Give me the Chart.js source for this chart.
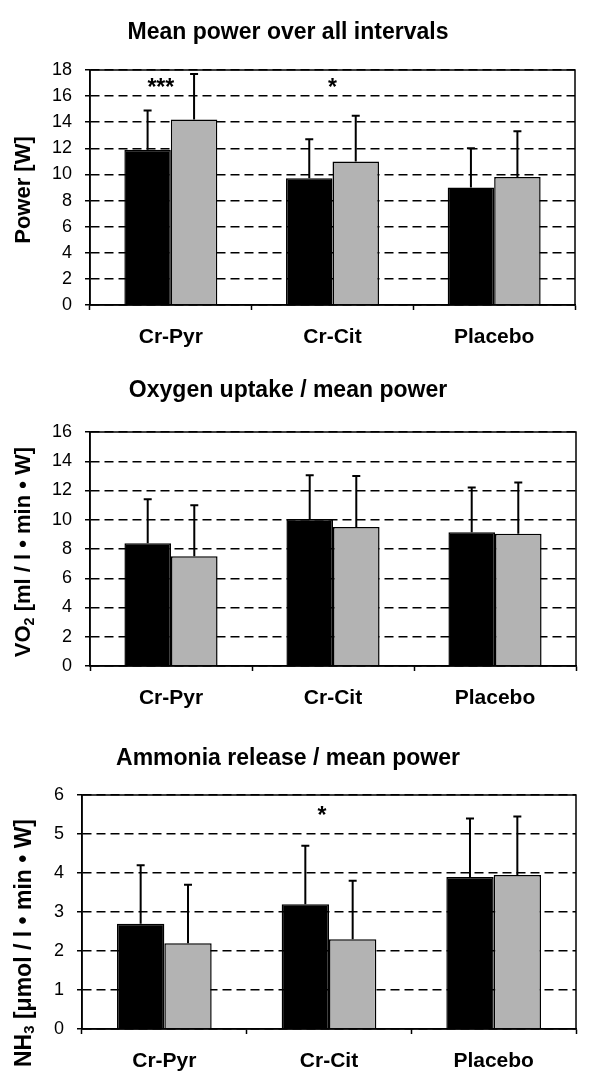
<!DOCTYPE html>
<html>
<head>
<meta charset="utf-8">
<script src="https://cdn.jsdelivr.net/npm/chart.js@4.4.1/dist/chart.umd.min.js"></script>
<style>
  body { margin: 0; background: #fff; width: 600px; height: 1084px; position: relative; overflow: hidden;
         font-family: "Liberation Sans", Arial, sans-serif; color: #000; }
  canvas { position: absolute; left: 0; }
  .title { position: absolute; left: 0; width: 576px; text-align: center; font-weight: bold;
           font-size: 23px; line-height: 23px; white-space: nowrap; }
  .ytitle { position: absolute; font-weight: bold; line-height: 1; white-space: nowrap;
            transform: translate(-50%, -50%) rotate(-90deg); }
  .ytitle sub { font-size: 65%; vertical-align: -0.25em; line-height: 0; }
</style>
</head>
<body>
<canvas id="chart1" width="600" height="350" style="top:0px"></canvas>
<canvas id="chart2" width="600" height="351" style="top:360px"></canvas>
<canvas id="chart3" width="600" height="354" style="top:720px"></canvas>

<div class="title" style="top:20px">Mean power over all intervals</div>
<div class="title" style="top:378px">Oxygen uptake / mean power</div>
<div class="title" style="top:746px">Ammonia release / mean power</div>

<div class="ytitle" style="left:23px; top:190px; font-size:22px">Power [W]</div>
<div class="ytitle" style="left:23px; top:552px; font-size:22px">VO<sub>2</sub> [ml / l • min • W]</div>
<div class="ytitle" style="left:23px; top:943px; font-size:23px">NH<sub>3</sub> [μmol / l • min • W]</div>

<script>
const groups = ['Cr-Pyr', 'Cr-Cit', 'Placebo'];

// mean power [W]
const powerBlack = [11.9, 9.7, 9.0];
const powerBlackSd = [3.0, 3.0, 3.0];
const powerGray = [14.2, 11.0, 9.8];
const powerGraySd = [3.5, 3.5, 3.5];
const powerStars = ['***', '*', ''];

// VO2 / mean power
const vo2Black = [8.4, 10.05, 9.15];
const vo2BlackSd = [3.0, 3.0, 3.05];
const vo2Gray = [7.5, 9.5, 9.05];
const vo2GraySd = [3.5, 3.5, 3.5];
const vo2Stars = ['', '', ''];

// NH3 / mean power
const nh3Black = [2.7, 3.2, 3.9];
const nh3BlackSd = [1.5, 1.5, 1.5];
const nh3Gray = [2.2, 2.3, 3.95];
const nh3GraySd = [1.5, 1.5, 1.5];
const nh3Stars = ['', '*', ''];

const FONT = '"Liberation Sans", Arial, sans-serif';

// upper error bars with a small cap
const errorBars = {
    id: 'errorBars',
    afterDatasetsDraw(chart) {
        const ctx = chart.ctx;
        const y = chart.scales.y;
        ctx.save();
        ctx.strokeStyle = '#000';
        ctx.lineWidth = 2;
        chart.data.datasets.forEach((ds, i) => {
            chart.getDatasetMeta(i).data.forEach((bar, j) => {
                const top = y.getPixelForValue(ds.data[j] + ds.sd[j]);
                ctx.beginPath();
                ctx.moveTo(bar.x, bar.y);
                ctx.lineTo(bar.x, top);
                ctx.moveTo(bar.x - 4, top);
                ctx.lineTo(bar.x + 4, top);
                ctx.stroke();
            });
        });
        ctx.restore();
    }
};

// box around the plot area
const frame = {
    id: 'frame',
    afterDatasetsDraw(chart) {
        const {ctx, chartArea: a} = chart;
        ctx.save();
        ctx.strokeStyle = '#000';
        ctx.lineWidth = 1.5;
        ctx.strokeRect(a.left, a.top, a.right - a.left, a.bottom - a.top);
        ctx.restore();
    }
};

// significance asterisks
const stars = {
    id: 'stars',
    afterDatasetsDraw(chart, args, opts) {
        const {ctx, scales: {x, y}} = chart;
        ctx.save();
        ctx.font = 'bold 23px ' + FONT;
        ctx.textAlign = 'center';
        ctx.textBaseline = 'alphabetic';
        ctx.fillStyle = '#000';
        opts.labels.forEach((t, i) => {
            if (!t) return;
            ctx.fillText(t, x.getPixelForValue(i) + opts.shift[i], y.getPixelForValue(opts.level));
        });
        ctx.restore();
    }
};

function makeChart(id, black, blackSd, gray, graySd, o) {
    const ctx = document.getElementById(id).getContext('2d');
    return new Chart(ctx, {
        type: 'bar',
        data: {
            labels: groups,
            datasets: [
                { data: black, sd: blackSd, backgroundColor: '#000', borderColor: '#000', borderWidth: 1.5 },
                { data: gray, sd: graySd, backgroundColor: '#b3b3b3', borderColor: '#000', borderWidth: 1.5 }
            ]
        },
        options: {
            responsive: false,
            animation: false,
            layout: { padding: { top: o.padTop, right: o.padRight, left: 0, bottom: 0 } },
            datasets: { bar: { categoryPercentage: 0.575, barPercentage: 1 } },
            plugins: {
                legend: { display: false },
                tooltip: { enabled: false },
                stars: { labels: o.stars, level: o.starLevel, shift: o.starShift }
            },
            scales: {
                x: {
                    ticks: { color: '#000', font: { family: FONT, size: 21, weight: 'bold' }, padding: 15 },
                    grid: { offset: true, drawOnChartArea: false, tickLength: 5, tickColor: '#000', tickWidth: 1.5 },
                    border: { color: '#000', width: 1.5 },
                    afterFit: (s) => { s.height = 45; }
                },
                y: {
                    min: 0,
                    max: o.max,
                    ticks: { stepSize: o.step, color: '#000', font: { family: FONT, size: 18 }, padding: 13 },
                    grid: { color: '#000', lineWidth: 1.5, tickLength: 5, tickColor: '#000', tickWidth: 1.5 },
                    border: { color: '#000', width: 1.5, dash: [9, 5] },
                    afterFit: (s) => { s.width = o.axisWidth; }
                }
            }
        },
        plugins: [errorBars, frame, stars]
    });
}

makeChart('chart1', powerBlack, powerBlackSd, powerGray, powerGraySd,
    { max: 18, step: 2, padTop: 70, padRight: 25, axisWidth: 90,
      stars: powerStars, starLevel: 16.1, starShift: [-10, 0, 0] });
makeChart('chart2', vo2Black, vo2BlackSd, vo2Gray, vo2GraySd,
    { max: 16, step: 2, padTop: 72, padRight: 24, axisWidth: 90,
      stars: vo2Stars, starLevel: 15, starShift: [0, 0, 0] });
makeChart('chart3', nh3Black, nh3BlackSd, nh3Gray, nh3GraySd,
    { max: 6, step: 1, padTop: 75, padRight: 24, axisWidth: 82,
      stars: nh3Stars, starLevel: 5.29, starShift: [0, -7, 0] });
</script>
</body>
</html>
